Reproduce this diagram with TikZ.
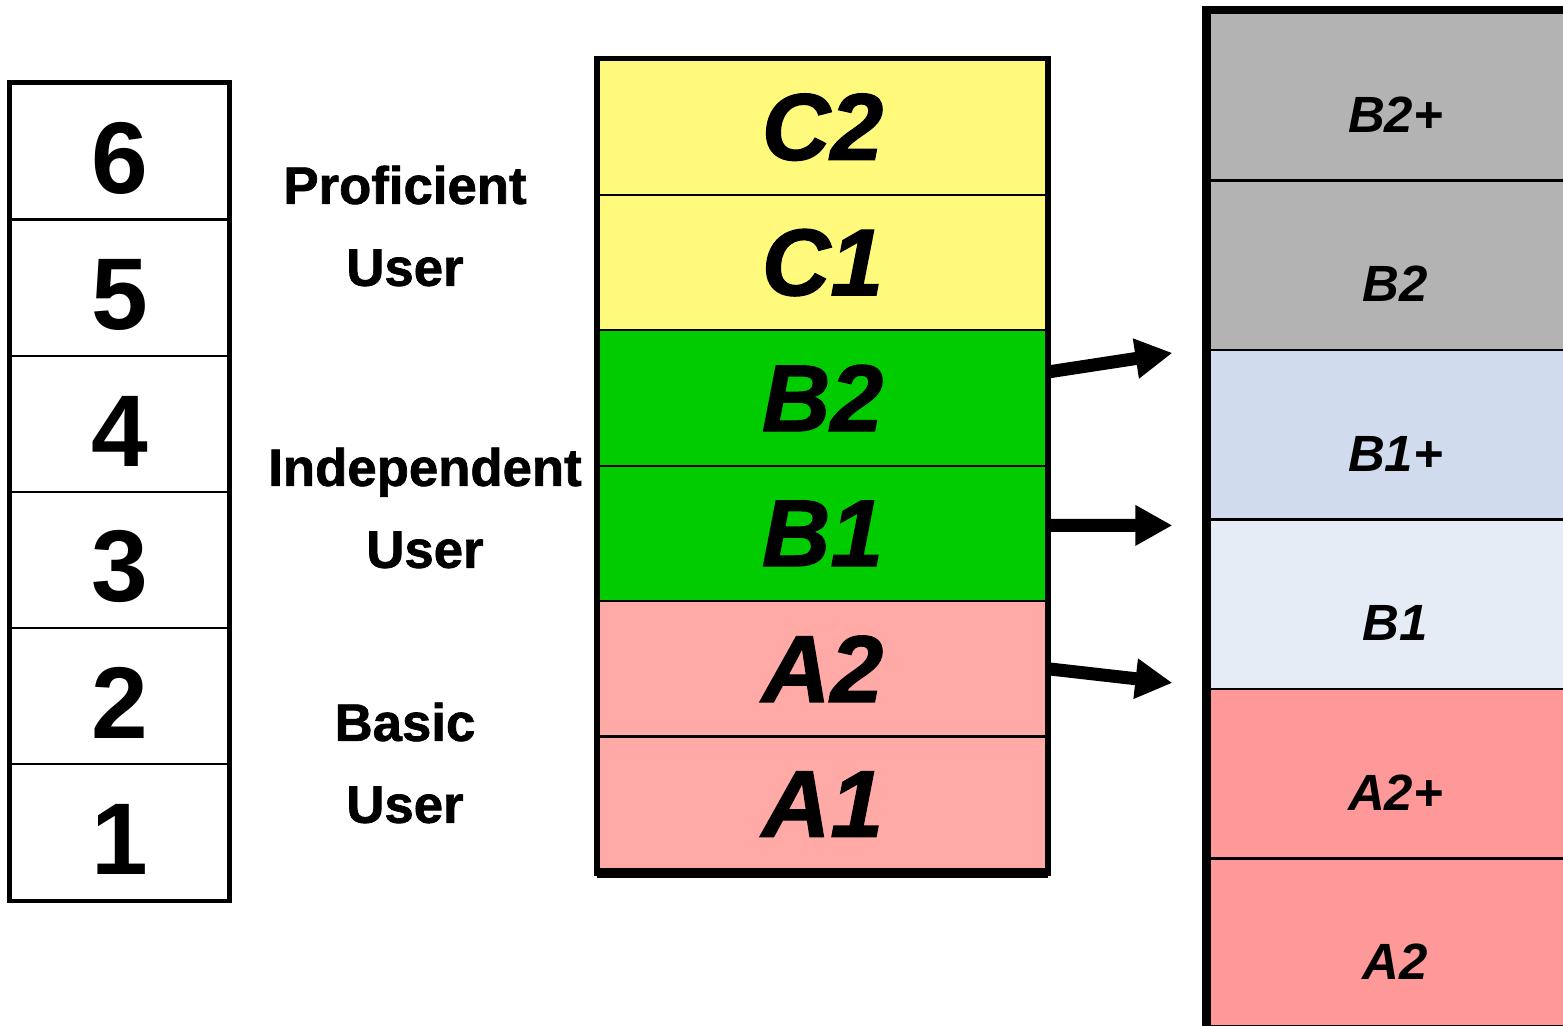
\documentclass[tikz,border=0pt]{standalone}
\usepackage{fontspec}
\setmainfont{Liberation Sans}
\newfontfamily\heavyfont{Liberation Sans}[UprightFont={* Bold},ItalicFont={* Bold Italic},FakeBold=1.3]
\usepackage{tikz}
\usetikzlibrary{arrows.meta,positioning}
\definecolor{cefryellow}{HTML}{FFFA7B}
\definecolor{cefrgreen}{HTML}{00CC00}
\definecolor{cefrpink}{HTML}{FFAAA6}
\definecolor{subgray}{HTML}{B3B3B3}
\definecolor{subblue}{HTML}{D0DCEE}
\definecolor{subpale}{HTML}{E6ECF6}
\definecolor{subred}{HTML}{FF9999}

\begin{document}
\begin{tikzpicture}[
  cell/.style={draw,line width=0.6pt,inner sep=0pt,anchor=center},
  num/.style={cell,minimum width=2.18cm,minimum height=1.361cm,text height=0.85cm,font=\bfseries\fontsize{29}{29}\selectfont},
  lvl/.style={cell,minimum width=4.49cm,minimum height=1.354cm,font=\heavyfont\itshape\fontsize{27}{27}\selectfont},
  sub/.style={cell,minimum width=3.76cm,minimum height=1.695cm,text height=0.73cm,font=\bfseries\itshape\fontsize{14.5}{14.5}\selectfont},
  grp/.style={align=center,font=\heavyfont\fontsize{15}{23.3}\selectfont},
  ar/.style={-{Triangle[length=0.37cm,width=0.38cm]},line width=0.13cm}]
\clip (0,0) rectangle (15.63,10.26);
\foreach \n [count=\i from 0] in {6,...,1}
  \node[num] (n\n) at (1.195,8.745-1.361*\i) {\n};
\foreach \lv/\col [count=\i from 0] in {C2/cefryellow,C1/cefryellow,B2/cefrgreen,B1/cefrgreen,A2/cefrpink,A1/cefrpink}
  \node[lvl,fill=\col] (m\lv) at (8.225,8.988-1.354*\i) {\lv};
\foreach \lv/\nm/\col [count=\i from 0] in {B2+/B2p/subgray,B2/B2/subgray,B1+/B1p/subblue,B1/B1/subpale,A2+/A2p/subred,A2/A2/subred}
  \node[sub,fill=\col] (r\nm) at (13.955,9.3025-1.695*\i) {\lv};
\draw[line width=1.3pt] (n6.north west) rectangle (n1.south east);
\draw[line width=1.5pt] (mC2.north west) rectangle (mA1.south east);
\draw[line width=2.8pt] (mA1.south west) -- (mA1.south east);
\draw[line width=2.4pt] (rB2p.north east) -- (rB2p.north west) -- (rA2.south west) -- (rA2.south east);
\node[grp] (prof) at (4.05,8.0) {Proficient\\User};
\node[grp] (indep) at (4.25,5.18) {Independent\\User};
\node[grp] (basic) at (4.05,2.63) {Basic\\User};
\draw[ar] ([yshift=0.26cm]mB2.east) -- ([xshift=-0.34cm,yshift=-0.04cm]rB1p.north west);
\draw[ar] ([yshift=0.08cm]mB1.east) -- ([xshift=-0.34cm,yshift=-0.07cm]rB1.north west);
\draw[ar] (mA2.east) -- ([xshift=-0.34cm,yshift=0.05cm]rA2p.north west);
\end{tikzpicture}
\end{document}
